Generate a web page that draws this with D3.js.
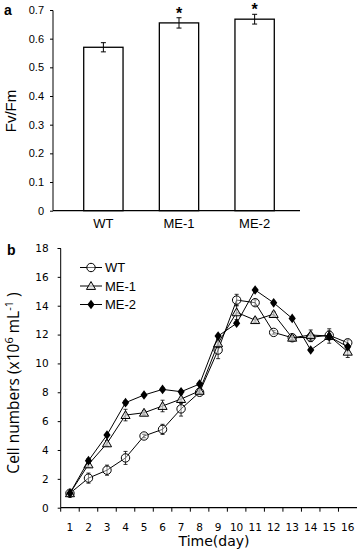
<!DOCTYPE html>
<html>
<head>
<meta charset="utf-8">
<script src="https://cdn.jsdelivr.net/npm/d3@7"></script>
<style>
  body { margin: 0; background: #fff; }
  svg { display: block; }
</style>
</head>
<body>
<svg id="chart" width="359" height="552"></svg>
<script>
// panel a data
const strains = ["WT", "ME-1", "ME-2"];
const fvfm = [0.570, 0.655, 0.668];
const fvfmErr = [0.016, 0.018, 0.017];
const fvfmSig = ["", "*", "*"];
const fvfmTicks = [0, 0.1, 0.2, 0.3, 0.4, 0.5, 0.6, 0.7];

// panel b data
const days = [1, 2, 3, 4, 5, 6, 7, 8, 9, 10, 11, 12, 13, 14, 15, 16];
const wtCells = [1.0, 2.05, 2.6, 3.45, 4.97, 5.43, 6.85, 8.0, 10.93, 14.39, 14.21, 12.15, 11.78, 11.81, 11.95, 11.43];
const wtErr = [0.1, 0.35, 0.35, 0.45, 0.12, 0.35, 0.5, 0.12, 0.6, 0.4, 0.2, 0.12, 0.15, 0.3, 0.3, 0.2];
const me1Cells = [1.0, 3.0, 4.46, 6.42, 6.58, 7.05, 7.53, 8.1, 11.39, 13.54, 13.0, 13.42, 11.78, 11.97, 11.9, 10.81];
const me1Err = [0.1, 0.2, 0.2, 0.4, 0.15, 0.4, 0.3, 0.15, 0.3, 0.5, 0.15, 0.15, 0.15, 0.35, 0.5, 0.4];
const me2Cells = [1.0, 3.26, 5.04, 7.28, 7.81, 8.2, 8.04, 8.57, 11.9, 12.78, 15.09, 14.2, 13.12, 10.93, 11.85, 11.16];
const me2Err = [0.1, 0.15, 0.1, 0.15, 0.1, 0.1, 0.1, 0.1, 0.1, 0.1, 0.1, 0.1, 0.1, 0.1, 0.2, 0.15];
const cellTicks = [0, 2, 4, 6, 8, 10, 12, 14, 16, 18];

const svg = d3.select("#chart");

// ---------- panel a ----------
const xa = d3.scaleBand().domain(strains).range([58, 300]).paddingInner(0.48).paddingOuter(0.34);
const ya = d3.scaleLinear().domain([0, 0.7]).range([210.7, 10]);

const ga = svg.append("g");

ga.append("g")
  .attr("transform", "translate(53,0)")
  .call(d3.axisLeft(ya).tickValues(fvfmTicks).tickSize(3).tickFormat(d => d === 0 ? "0" : d3.format(".1f")(d)))
  .call(g => g.select(".domain").attr("d", "M-3,10.5H0V210.7"))
  .call(g => g.selectAll("text").attr("font-family", "Liberation Sans, Arial, sans-serif").attr("font-size", 11).attr("fill", "#000").attr("x", -9));

ga.selectAll("rect.bar")
  .data(strains)
  .join("rect")
  .attr("x", d => xa(d))
  .attr("y", (d, i) => ya(fvfm[i]))
  .attr("width", xa.bandwidth())
  .attr("height", (d, i) => ya(0) - ya(fvfm[i]))
  .attr("fill", "#fff")
  .attr("stroke", "#000")
  .attr("stroke-width", 1.3);

ga.append("line")
  .attr("x1", 53).attr("x2", 300)
  .attr("y1", ya(0)).attr("y2", ya(0))
  .attr("stroke", "#000").attr("stroke-width", 1.2);

strains.forEach((s, i) => {
  const cx = xa(s) + xa.bandwidth() / 2;
  const eb = ga.append("g").attr("stroke", "#000").attr("stroke-width", 1);
  eb.append("line").attr("x1", cx).attr("x2", cx).attr("y1", ya(fvfm[i] + fvfmErr[i])).attr("y2", ya(fvfm[i] - fvfmErr[i]));
  eb.append("line").attr("x1", cx - 2.5).attr("x2", cx + 2.5).attr("y1", ya(fvfm[i] + fvfmErr[i])).attr("y2", ya(fvfm[i] + fvfmErr[i]));
  eb.append("line").attr("x1", cx - 2.5).attr("x2", cx + 2.5).attr("y1", ya(fvfm[i] - fvfmErr[i])).attr("y2", ya(fvfm[i] - fvfmErr[i]));
  if (fvfmSig[i]) {
    ga.append("text")
      .attr("x", cx).attr("y", ya(fvfm[i] + fvfmErr[i]) + 1)
      .attr("text-anchor", "middle")
      .attr("font-family", "Liberation Sans, Arial, sans-serif")
      .attr("font-weight", "bold")
      .attr("font-size", 16)
      .text(fvfmSig[i]);
  }
  ga.append("text")
    .attr("x", cx).attr("y", 228)
    .attr("text-anchor", "middle")
    .attr("font-family", "Liberation Sans, Arial, sans-serif")
    .attr("font-size", 13)
    .text(s);
});

ga.append("text")
  .attr("transform", "translate(16,111) rotate(-90)")
  .attr("text-anchor", "middle")
  .attr("font-family", "Liberation Sans, Arial, sans-serif")
  .attr("font-size", 15)
  .text("Fv/Fm");

svg.append("text").attr("x", 4).attr("y", 15)
  .attr("font-family", "Liberation Sans, Arial, sans-serif")
  .attr("font-weight", "bold").attr("font-size", 14).text("a");

// ---------- panel b ----------
const xb = d3.scaleBand().domain(days).range([60.7, 357]);
const yb = d3.scaleLinear().domain([0, 18]).range([507.7, 248]);
const cx = d => xb(d) + xb.bandwidth() / 2;

const gb = svg.append("g");

gb.append("g")
  .attr("transform", "translate(60.7,0)")
  .call(d3.axisLeft(yb).tickValues(cellTicks).tickSize(3))
  .call(g => g.select(".domain").attr("d", "M-3,248.5H0V507.7"))
  .call(g => g.selectAll("text").attr("font-family", "DejaVu Sans, sans-serif").attr("font-size", 10.5).attr("fill", "#000").attr("x", -12));

// category axis: ticks on boundaries, labels in the middle
gb.append("line")
  .attr("x1", 60.7).attr("x2", 357)
  .attr("y1", yb(0)).attr("y2", yb(0))
  .attr("stroke", "#000").attr("stroke-width", 1.2);
gb.selectAll("line.xt")
  .data(days)
  .join("line")
  .attr("class", "xt")
  .attr("x1", d => xb(d)).attr("x2", d => xb(d))
  .attr("y1", yb(0)).attr("y2", yb(0) + 4)
  .attr("stroke", "#000");
gb.selectAll("text.xl")
  .data(days)
  .join("text")
  .attr("class", "xl")
  .attr("x", d => cx(d))
  .attr("y", 531)
  .attr("text-anchor", "middle")
  .attr("font-family", "DejaVu Sans, sans-serif")
  .attr("font-size", 10.5)
  .text(d => d);

gb.append("text")
  .attr("x", 214).attr("y", 546)
  .attr("text-anchor", "middle")
  .attr("font-family", "DejaVu Sans, sans-serif")
  .attr("font-size", 14)
  .text("Time(day)");

const ylab = gb.append("text")
  .attr("transform", "translate(19,383) rotate(-90)")
  .attr("text-anchor", "middle")
  .attr("font-family", "Open Sans, sans-serif")
  .attr("font-size", 15.5);
ylab.append("tspan").text("Cell numbers (x10");
ylab.append("tspan").attr("font-size", 11).attr("dy", -6).text("6");
ylab.append("tspan").attr("dy", 6).text(" mL");
ylab.append("tspan").attr("font-size", 11).attr("dy", -6).text("-1");
ylab.append("tspan").attr("dy", 6).text(" )");

svg.append("text").attr("x", 7).attr("y", 255)
  .attr("font-family", "Liberation Sans, Arial, sans-serif")
  .attr("font-weight", "bold").attr("font-size", 14).text("b");

const series = [
  { name: "WT", values: wtCells, err: wtErr, shape: "circle" },
  { name: "ME-1", values: me1Cells, err: me1Err, shape: "triangle" },
  { name: "ME-2", values: me2Cells, err: me2Err, shape: "diamond" }
];

const line = d3.line().x((v, i) => cx(days[i])).y(v => yb(v));

function drawMarker(g, shape, x, y) {
  if (shape === "circle") {
    g.append("circle").attr("cx", x).attr("cy", y).attr("r", 4.2)
      .attr("fill", "#fff").attr("fill-opacity", 0.4).attr("stroke", "#000").attr("stroke-width", 1);
  } else if (shape === "triangle") {
    g.append("path").attr("transform", `translate(${x},${y + 0.8})`)
      .attr("d", d3.symbol(d3.symbolTriangle, 36))
      .attr("fill", "#ddd").attr("fill-opacity", 0.7).attr("stroke", "#000").attr("stroke-width", 1);
  } else {
    g.append("path").attr("transform", `translate(${x},${y})`)
      .attr("d", "M0,-4.8L3.6,0L0,4.8L-3.6,0Z")
      .attr("fill", "#000");
  }
}

series.forEach(s => {
  const g = gb.append("g");
  g.append("path").datum(s.values)
    .attr("d", line).attr("fill", "none").attr("stroke", "#000").attr("stroke-width", 1);
  s.values.forEach((v, i) => {
    const x = cx(days[i]);
    const e = s.err[i];
    g.append("line").attr("x1", x).attr("x2", x).attr("y1", yb(v + e)).attr("y2", yb(v - e)).attr("stroke", "#000").attr("stroke-width", 0.8);
    g.append("line").attr("x1", x - 2).attr("x2", x + 2).attr("y1", yb(v + e)).attr("y2", yb(v + e)).attr("stroke", "#000").attr("stroke-width", 0.8);
    g.append("line").attr("x1", x - 2).attr("x2", x + 2).attr("y1", yb(v - e)).attr("y2", yb(v - e)).attr("stroke", "#000").attr("stroke-width", 0.8);
  });
  s.values.forEach((v, i) => drawMarker(g, s.shape, cx(days[i]), yb(v)));
});

// legend
const lg = gb.append("g");
series.forEach((s, i) => {
  const y = 267.5 + i * 18.5;
  lg.append("line").attr("x1", 80).attr("x2", 102).attr("y1", y).attr("y2", y).attr("stroke", "#000");
  drawMarker(lg, s.shape, 91, y);
  lg.append("text").attr("x", 105).attr("y", y + 4.5)
    .attr("font-family", "Liberation Sans, Arial, sans-serif")
    .attr("font-size", 13)
    .text(s.name);
});
</script>
</body>
</html>
